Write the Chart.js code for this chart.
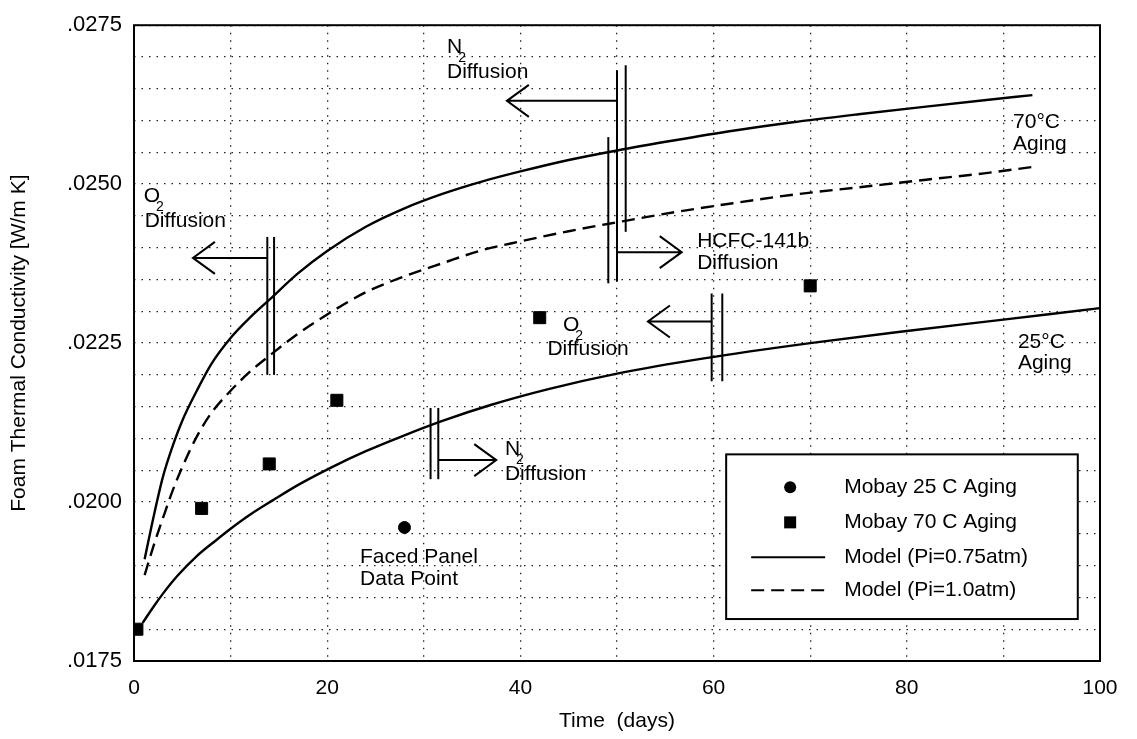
<!DOCTYPE html>
<html>
<head>
<meta charset="utf-8">
<script src="https://cdn.jsdelivr.net/npm/chart.js@4.4.1/dist/chart.umd.min.js"></script>
<style>
  html, body { margin: 0; padding: 0; background: #fff; }
  #wrap { width: 1137px; height: 739px; }
</style>
</head>
<body>
<div id="wrap"><canvas id="foamChart"></canvas></div>
<script>
// Measured data (days, W/m K)
const mobay25Days = [28];
const mobay25K = [0.0196];
const mobay70Days = [0.3, 7, 14, 21, 42, 70];
const mobay70K = [0.0180, 0.0199, 0.0206, 0.0216, 0.0229, 0.0234];

// Model curves
const model70Days = [1.1, 2, 3, 4, 5, 6.5, 8, 10, 12, 14, 17, 20, 24, 28, 32, 36, 40, 45, 50, 56, 62, 68, 75, 82, 88, 93];
const model70K = [0.0191, 0.01975, 0.0204, 0.02088, 0.02128, 0.02175, 0.02217, 0.02258, 0.0229, 0.02318,
                  0.0236, 0.02395, 0.02433, 0.02462, 0.02485, 0.02504, 0.0252, 0.02538, 0.02553, 0.02569,
                  0.02584, 0.02597, 0.0261, 0.02622, 0.02632, 0.0264];
const model25Days = [0.9, 2, 3, 4.5, 6.5, 8.5, 10, 12, 14.4, 17, 20.5, 24, 28, 32, 37, 43, 50, 59, 70, 80, 90, 100];
const model25K = [0.0181, 0.01835, 0.01856, 0.01884, 0.01915, 0.0194, 0.01958, 0.0198, 0.02003, 0.02027,
                  0.02055, 0.0208, 0.02105, 0.02128, 0.02153, 0.02178, 0.02202, 0.02226, 0.0225, 0.02269,
                  0.02287, 0.02305];
const modelP1Days = [1.1, 2, 3, 4, 5, 6.5, 8, 10, 12, 14, 17, 20, 24, 28, 32, 36, 40, 45, 50, 56, 62, 68, 75, 82, 88, 93];
const modelP1K = [0.01885, 0.0193, 0.01975, 0.02018, 0.02055, 0.02103, 0.0214, 0.02175, 0.02205, 0.0223,
                  0.02265, 0.02295, 0.0233, 0.02355, 0.02376, 0.02396, 0.0241, 0.02426, 0.0244, 0.02456,
                  0.0247, 0.02483, 0.02495, 0.02507, 0.02517, 0.02527];

const xTickLabels = [0, 20, 40, 60, 80, 100];
const yTickLabels = ['.0175', '.0200', '.0225', '.0250', '.0275'];

// Diffusion markers (data coordinates)
const diffusionBars = [
    { x: 13.8, y1: 0.02417, y2: 0.0220 },
    { x: 14.5, y1: 0.02417, y2: 0.0220 },
    { x: 49.1, y1: 0.02574, y2: 0.02344 },
    { x: 50.0, y1: 0.02679, y2: 0.02347 },
    { x: 50.9, y1: 0.02687, y2: 0.02425 },
    { x: 59.8, y1: 0.02328, y2: 0.0219 },
    { x: 60.9, y1: 0.02328, y2: 0.0219 },
    { x: 30.7, y1: 0.02148, y2: 0.02036 },
    { x: 31.5, y1: 0.02148, y2: 0.02036 }
];
const diffusionArrows = [
    { x1: 13.8, x2: 6.1, y: 0.02384 },
    { x1: 50.0, x2: 38.6, y: 0.02631 },
    { x1: 50.0, x2: 56.7, y: 0.02393 },
    { x1: 59.8, x2: 53.2, y: 0.02284 },
    { x1: 31.5, x2: 37.5, y: 0.02066 }
];
const noteLines = [
    { x: 32.4, y: 0.02707, text: 'N', sub: '2' },
    { x: 32.4, y: 0.02667, text: 'Diffusion' },
    { x: 1.0, y: 0.02472, text: 'O', sub: '2' },
    { x: 1.1, y: 0.02433, text: 'Diffusion' },
    { x: 58.3, y: 0.02401, text: 'HCFC-141b' },
    { x: 58.3, y: 0.02367, text: 'Diffusion' },
    { x: 44.4, y: 0.02269, text: 'O', sub: '2' },
    { x: 42.8, y: 0.02231, text: 'Diffusion' },
    { x: 38.4, y: 0.02074, text: 'N', sub: '2' },
    { x: 38.4, y: 0.02035, text: 'Diffusion' },
    { x: 23.4, y: 0.01904, text: 'Faced Panel' },
    { x: 23.4, y: 0.0187, text: 'Data Point' },
    { x: 91, y: 0.02588, text: '70°C' },
    { x: 91, y: 0.02554, text: 'Aging' },
    { x: 91.5, y: 0.02242, text: '25°C' },
    { x: 91.5, y: 0.0221, text: 'Aging' }
];
const legendBox = { x1: 61.3, x2: 97.7, y1: 0.02075, y2: 0.01816 };
const legendOrder = [0, 1, 2, 4];

const FONT = "'Liberation Sans', Arial, sans-serif";

function toPoints(xs, ys) {
    return xs.map((v, i) => ({ x: v, y: ys[i] }));
}

function drawArrow(ctx, x1, x2, yy) {
    const dir = x2 > x1 ? 1 : -1;
    ctx.beginPath();
    ctx.moveTo(x1, yy);
    ctx.lineTo(x2, yy);
    ctx.moveTo(x2 - dir * 22, yy - 16);
    ctx.lineTo(x2, yy);
    ctx.lineTo(x2 - dir * 22, yy + 16);
    ctx.stroke();
}

// Frame, diffusion notes and the boxed legend
const notesPlugin = {
    id: 'diffusionNotes',
    afterDatasetsDraw(chart) {
        const { ctx, chartArea: area, scales: { x, y } } = chart;
        ctx.save();
        ctx.strokeStyle = '#000';
        ctx.fillStyle = '#000';

        ctx.lineWidth = 2;
        ctx.strokeRect(area.left, area.top, area.width, area.height);

        diffusionBars.forEach(b => {
            const px = x.getPixelForValue(b.x);
            ctx.beginPath();
            ctx.moveTo(px, y.getPixelForValue(b.y1));
            ctx.lineTo(px, y.getPixelForValue(b.y2));
            ctx.stroke();
        });
        diffusionArrows.forEach(a => {
            drawArrow(ctx, x.getPixelForValue(a.x1), x.getPixelForValue(a.x2), y.getPixelForValue(a.y));
        });

        ctx.textBaseline = 'alphabetic';
        ctx.textAlign = 'left';
        noteLines.forEach(n => {
            const px = x.getPixelForValue(n.x);
            const py = y.getPixelForValue(n.y);
            ctx.font = '21px ' + FONT;
            ctx.fillText(n.text, px, py);
            if (n.sub) {
                const w = ctx.measureText(n.text).width;
                ctx.font = '14px ' + FONT;
                ctx.fillText(n.sub, px + w - 4, py + 9);
            }
        });

        // legend
        const lx = x.getPixelForValue(legendBox.x1);
        const rx = x.getPixelForValue(legendBox.x2);
        const ty = y.getPixelForValue(legendBox.y1);
        const by = y.getPixelForValue(legendBox.y2);
        ctx.fillStyle = '#fff';
        ctx.fillRect(lx, ty, rx - lx, by - ty);
        ctx.lineWidth = 2;
        ctx.strokeRect(lx, ty, rx - lx, by - ty);

        const rowY = [33, 68, 103, 136];
        legendOrder.forEach((idx, r) => {
            const ds = chart.data.datasets[idx];
            const cy = ty + rowY[r];
            const cx = lx + 64;
            ctx.fillStyle = '#000';
            ctx.strokeStyle = '#000';
            if (ds.pointStyle === 'circle') {
                ctx.beginPath();
                ctx.arc(cx, cy, 6, 0, Math.PI * 2);
                ctx.fill();
            } else if (ds.pointStyle === 'rect') {
                ctx.fillRect(cx - 6, cy - 6, 12, 12);
            } else {
                ctx.lineWidth = 2;
                ctx.setLineDash(ds.borderDash || []);
                ctx.beginPath();
                ctx.moveTo(lx + 25, cy);
                ctx.lineTo(lx + 99, cy);
                ctx.stroke();
                ctx.setLineDash([]);
            }
            ctx.font = '21px ' + FONT;
            ctx.textBaseline = 'middle';
            ctx.fillText(ds.label, lx + 118, cy);
        });
        ctx.restore();
    }
};

const modelLine = {
    type: 'line',
    borderColor: '#000',
    borderWidth: 2.4,
    pointRadius: 0,
    fill: false,
    cubicInterpolationMode: 'monotone'
};

new Chart(document.getElementById('foamChart'), {
    type: 'scatter',
    data: {
        datasets: [
            {
                label: 'Mobay 25 C Aging',
                data: toPoints(mobay25Days, mobay25K),
                pointStyle: 'circle',
                pointRadius: 6,
                backgroundColor: '#000',
                borderColor: '#000'
            },
            {
                label: 'Mobay 70 C Aging',
                data: toPoints(mobay70Days, mobay70K),
                pointStyle: 'rect',
                pointRadius: 8.5,
                backgroundColor: '#000',
                borderColor: '#000'
            },
            Object.assign({ label: 'Model (Pi=0.75atm)', data: toPoints(model70Days, model70K) }, modelLine),
            Object.assign({ label: 'Model (Pi=0.75atm)', data: toPoints(model25Days, model25K) }, modelLine),
            Object.assign({ label: 'Model (Pi=1.0atm)', data: toPoints(modelP1Days, modelP1K), borderDash: [13, 7] }, modelLine)
        ]
    },
    options: {
        responsive: true,
        maintainAspectRatio: false,
        animation: false,
        layout: { padding: { top: 20, right: 37, bottom: 0, left: 0 } },
        plugins: {
            legend: { display: false },
            tooltip: { enabled: false }
        },
        scales: {
            x: {
                type: 'linear',
                min: 0,
                max: 100,
                afterFit: scale => { scale.height = 78; },
                ticks: {
                    stepSize: 10,
                    autoSkip: false,
                    maxRotation: 0,
                    padding: 15,
                    color: '#000',
                    font: { family: FONT, size: 21 },
                    callback: v => xTickLabels.includes(Math.round(v)) ? String(Math.round(v)) : ''
                },
                grid: { color: '#222', lineWidth: 1.3, drawTicks: false },
                border: { display: false, dash: [1.5, 6] },
                title: {
                    display: true,
                    text: 'Time  (days)',
                    color: '#000',
                    font: { family: FONT, size: 21 },
                    padding: { top: 0, bottom: 5 }
                }
            },
            y: {
                min: 0.0175,
                max: 0.0275,
                afterFit: scale => { scale.width = 134; },
                ticks: {
                    stepSize: 0.0005,
                    maxTicksLimit: 50,
                    autoSkip: false,
                    padding: 12,
                    color: '#000',
                    font: { family: FONT, size: 22 },
                    callback: v => {
                        const s = Number(v).toFixed(4).replace(/^0/, '');
                        return yTickLabels.includes(s) ? s : '';
                    }
                },
                grid: { color: '#222', lineWidth: 1.3, drawTicks: false },
                border: { display: false, dash: [1.5, 6] },
                title: {
                    display: true,
                    text: 'Foam Thermal Conductivity [W/m K]',
                    color: '#000',
                    font: { family: FONT, size: 21 },
                    padding: { top: 7, bottom: 0 }
                }
            }
        }
    },
    plugins: [notesPlugin]
});
</script>
</body>
</html>
